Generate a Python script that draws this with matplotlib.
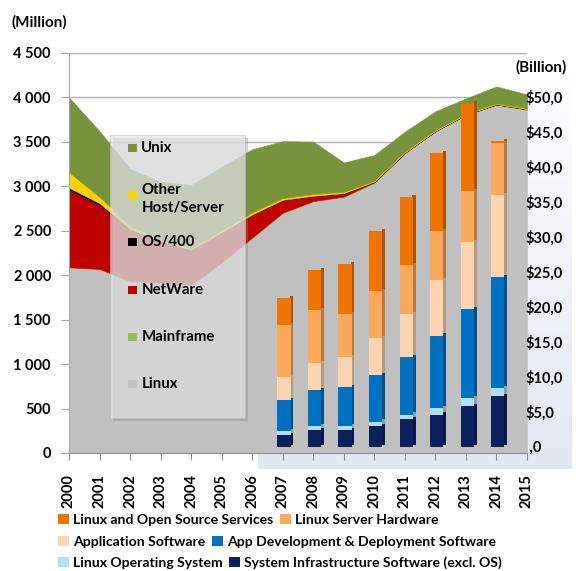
import numpy as np
import matplotlib
matplotlib.use('Agg')
import matplotlib.pyplot as plt
from matplotlib.patches import Rectangle, Patch
from matplotlib.ticker import FuncFormatter, MultipleLocator
import matplotlib.colors as mcolors

plt.rcParams['font.family'] = ['Lato', 'DejaVu Sans']
plt.rcParams['font.weight'] = 'bold'

# servers installed base (Million), stacked areas
years = np.arange(2000, 2016)
linux     = [2085, 2066, 1930, 1910, 1890, 2140, 2420, 2700, 2830, 2880, 3040, 3370, 3615, 3800, 3915, 3860]
mainframe = [5, 5, 5, 5, 5, 5, 5, 5, 5, 5, 5, 5, 5, 5, 5, 5]
netware   = [870, 720, 575, 465, 385, 335, 255, 140, 55, 35, 5, 3, 2, 2, 2, 2]
os400     = [25, 20, 10, 5, 5, 3, 3, 3, 3, 3, 3, 2, 2, 2, 2, 2]
other     = [175, 70, 40, 15, 15, 25, 25, 20, 20, 15, 10, 10, 10, 10, 10, 10]
unix      = [840, 740, 635, 650, 715, 710, 710, 640, 590, 330, 290, 225, 210, 170, 190, 155]

area_labels = ['Linux', 'Mainframe', 'NetWare', 'OS/400', 'Other\nHost/Server', 'Unix']
area_colors = ['#c0c0c0', '#9bbb59', '#c00000', '#000000', '#ffd200', '#77933c']

# Linux ecosystem revenue (Billion), stacked bars
bar_years = np.arange(2007, 2015)
infra     = [1.7, 2.4, 2.4, 3.0, 3.9, 4.6, 5.8, 7.2]
linux_os  = [0.5, 0.5, 0.6, 0.6, 0.7, 0.9, 1.2, 1.2]
app_dev   = [4.5, 5.2, 5.5, 6.7, 8.2, 10.4, 12.7, 15.9]
app_sw    = [3.3, 3.9, 4.3, 5.2, 6.2, 7.9, 9.6, 11.7]
hardware  = [7.4, 7.6, 6.2, 6.7, 7.0, 7.0, 7.2, 7.4]
services  = [3.8, 5.7, 7.1, 8.6, 9.7, 11.2, 12.6, 0.3]

bar_labels = ['System Infrastructure Software (excl. OS)', 'Linux Operating System',
              'App Development & Deployment Software', 'Application Software',
              'Linux Server Hardware', 'Linux and Open Source Services']
bar_colors = ['#0b215e', '#b3e0ea', '#0070c0', '#fdd4b0', '#fca95b', '#ef7403']

W, H = 576, 571
def fx(x): return x / W
def fy(y): return 1 - y / H

fig = plt.figure(figsize=(W / 100, H / 100), dpi=100, facecolor='white')

# light panel behind the bar chart part
bg = fig.add_axes([fx(258), fy(469), fx(572) - fx(258), fy(58) - fy(469)], zorder=0)
grad = np.linspace(0, 1, 100)[:, None]
cmap = mcolors.LinearSegmentedColormap.from_list('bg', ['#ffffff', '#e2e7f2'])
bg.imshow(grad, aspect='auto', cmap=cmap, extent=[0, 1, 0, 1], origin='upper')
bg.axis('off')

ax = fig.add_axes([fx(69), fy(453), fx(527) - fx(69), fy(53) - fy(453)], zorder=1)
polys = ax.stackplot(years, linux, mainframe, netware, os400, other, unix,
                     colors=area_colors, linewidth=0)
for p, c in zip(polys, area_colors):
    p.set_edgecolor(c)
    p.set_linewidth(0.4)

ax.set_xlim(2000, 2015)
ax.set_ylim(0, 4500)
ax.yaxis.set_major_locator(MultipleLocator(500))
ax.yaxis.set_major_formatter(FuncFormatter(lambda v, p: f'{int(v):,}'.replace(',', ' ')))
ax.set_xticks(years)
ax.set_xticklabels([str(y) for y in years], rotation=90, fontsize=10.5)
ax.tick_params(axis='x', length=5, color='#8c8c8c', pad=10)
ax.tick_params(axis='y', length=6, color='#a6a6a6', labelsize=10.5, pad=7)
ax.grid(axis='y', color='#b0b0b0', linewidth=1)
ax.set_axisbelow(True)
for s in ['top', 'right']:
    ax.spines[s].set_visible(False)
ax.spines['left'].set_color('#a6a6a6')
ax.spines['bottom'].set_color('#8c8c8c')

# translucent legend box of the area chart
ax.add_patch(Rectangle((0.0955, 0.080), 0.295, 0.708, transform=ax.transAxes,
                       facecolor='#808080', alpha=0.35, linewidth=0, zorder=5))
ax.add_patch(Rectangle((0.0895, 0.0875), 0.2945, 0.7075, transform=ax.transAxes,
                       facecolor='#e6e6e6', alpha=0.7, edgecolor='#bdbdbd', linewidth=0.6, zorder=6))
legend_y = [148, 195, 242, 290, 337, 384]
for lab, c, yp in zip(area_labels[::-1], area_colors[::-1], legend_y):
    ya = (453 - yp) / 400
    ax.add_patch(Rectangle((0.1295, ya - 0.011), 0.018, 0.022, transform=ax.transAxes,
                           facecolor=c, linewidth=0, zorder=7))
    if '\n' in lab:
        ax.text(0.158, ya + 0.03, lab, transform=ax.transAxes, fontsize=10.8, va='top',
                ha='left', zorder=8, linespacing=1.4)
    else:
        ax.text(0.158, ya, lab, transform=ax.transAxes, fontsize=10.8, va='center',
                ha='left', zorder=8)

# bars on the right axis
ax2 = ax.twinx()
ax2.set_ylim(-0.9, 56.3)
bottom = np.zeros(len(bar_years))
for vals, c in zip([infra, linux_os, app_dev, app_sw, hardware, services], bar_colors):
    vals = np.array(vals)
    dark = tuple(v * 0.72 for v in mcolors.to_rgb(c))
    ax2.bar(bar_years + 0.30, vals, width=0.1, bottom=bottom + 0.3, color=dark, linewidth=0, zorder=3)
    ax2.bar(bar_years + 0.04, vals, width=0.43, bottom=bottom, color=c, linewidth=0, zorder=4)
    bottom += vals

ax2.set_yticks(np.arange(0, 51, 5))
ax2.yaxis.set_major_formatter(FuncFormatter(lambda v, p: ' ,0' if v == 0 else f'${v:.1f}'.replace('.', ',')))
ax2.tick_params(axis='y', length=0, labelsize=10.5, pad=-1)
for s in ax2.spines.values():
    s.set_visible(False)

fig.text(fx(12), fy(22), '(Million)', fontsize=11, va='center', ha='left')
fig.text(fx(515), fy(67), '(Billion)', fontsize=11, va='center', ha='left')

# bottom legend, three flowing rows
rows = [[5, 4], [3, 2], [1, 0]]
row_y = [514, 536, 556]
for r, yp in zip(rows, row_y):
    handles = [Patch(facecolor=bar_colors[i], label=bar_labels[i]) for i in r]
    fig.legend(handles=handles, loc='upper left', bbox_to_anchor=(fx(58), fy(yp)), ncol=2,
               frameon=False, fontsize=10.1, handlelength=0.75, handleheight=0.75,
               handletextpad=0.3, columnspacing=0.5, borderpad=0, borderaxespad=0)

fig.savefig('out.png', dpi=100)
